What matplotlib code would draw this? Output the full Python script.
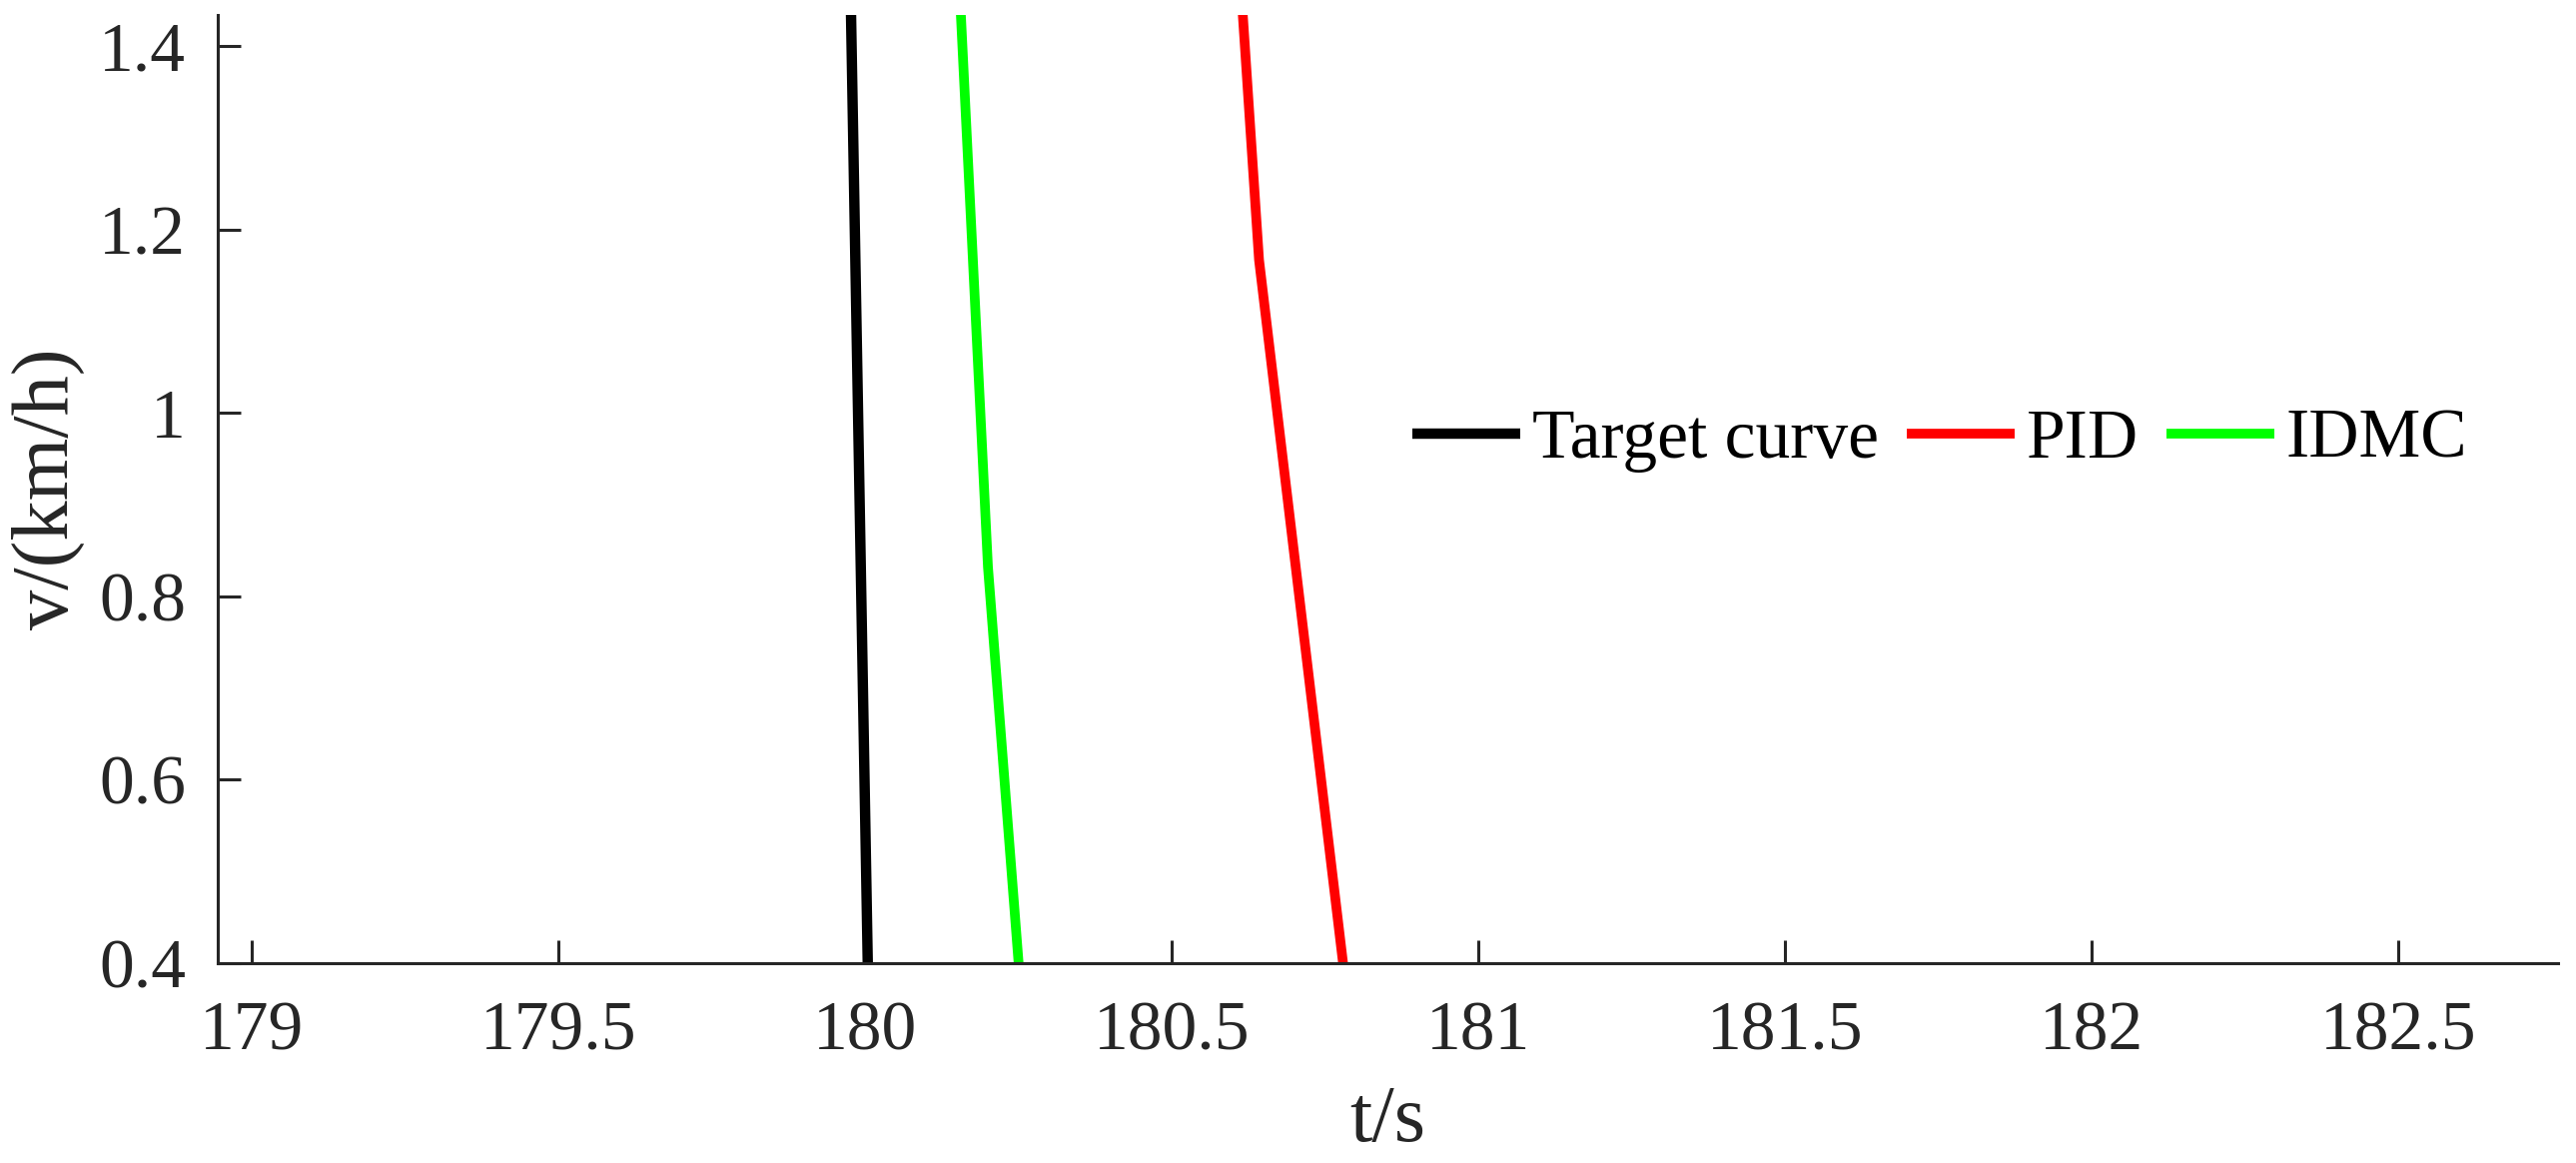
import matplotlib
matplotlib.use("Agg")
import matplotlib.pyplot as plt

# =========================
# DATA
# =========================
t_target = [179.976, 180.005]
v_target = [1.5, 0.4]

t_pid = [180.610, 180.643, 180.780]
v_pid = [1.5, 1.167, 0.4]

t_idmc = [180.152, 180.201, 180.251]
v_idmc = [1.5, 0.832, 0.4]

x_ticks = [179, 179.5, 180, 180.5, 181, 181.5, 182, 182.5]
x_tick_labels = ["179", "179.5", "180", "180.5", "181", "181.5", "182", "182.5"]
y_ticks = [0.4, 0.6, 0.8, 1.0, 1.2, 1.4]
y_tick_labels = ["0.4", "0.6", "0.8", "1", "1.2", "1.4"]

# =========================
# STYLE
# =========================
plt.rcParams["font.family"] = ["Liberation Serif", "DejaVu Serif"]
plt.rcParams["font.size"] = 50
axis_color = "#262626"

fig = plt.figure(figsize=(25.79, 11.64), dpi=100)
ax = fig.add_axes([0.0845, 0.1718, 0.993 - 0.0845, 0.9871 - 0.1718])

lw = 7.5
ax.plot(t_target, v_target, color="black", lw=lw, label="Target curve",
        solid_capstyle="butt")
ax.plot(t_pid, v_pid, color="#ff0000", lw=lw - 0.5, label="PID",
        solid_capstyle="butt")
ax.plot(t_idmc, v_idmc, color="#00ff00", lw=lw - 0.5, label="IDMC",
        solid_capstyle="butt")

ax.set_xlim(178.945, 182.761)
ax.set_ylim(0.4, 1.434)

ax.set_xticks(x_ticks)
ax.set_xticklabels(x_tick_labels)
ax.set_yticks(y_ticks)
ax.set_yticklabels(y_tick_labels)

for side in ["top", "right"]:
    ax.spines[side].set_visible(False)
for side in ["left", "bottom"]:
    ax.spines[side].set_linewidth(2.2)
    ax.spines[side].set_color(axis_color)

ax.tick_params(axis="both", direction="in", length=16.5, width=2.2,
               colors=axis_color, labelcolor=axis_color)
ax.tick_params(axis="x", pad=27)
ax.tick_params(axis="y", pad=23)

ax.set_xlabel("t/s", color=axis_color, fontsize=58, labelpad=15)
ax.set_ylabel("v/(km/h)", color=axis_color, fontsize=58, labelpad=10)

ax.legend(loc="center", bbox_to_anchor=(0.753, 0.621),
          bbox_transform=fig.transFigure, ncol=3, frameon=False,
          borderpad=0, borderaxespad=0, handlelength=1.56,
          handletextpad=0.17, columnspacing=0.4)

fig.savefig("out.png", dpi=100, facecolor="white")
